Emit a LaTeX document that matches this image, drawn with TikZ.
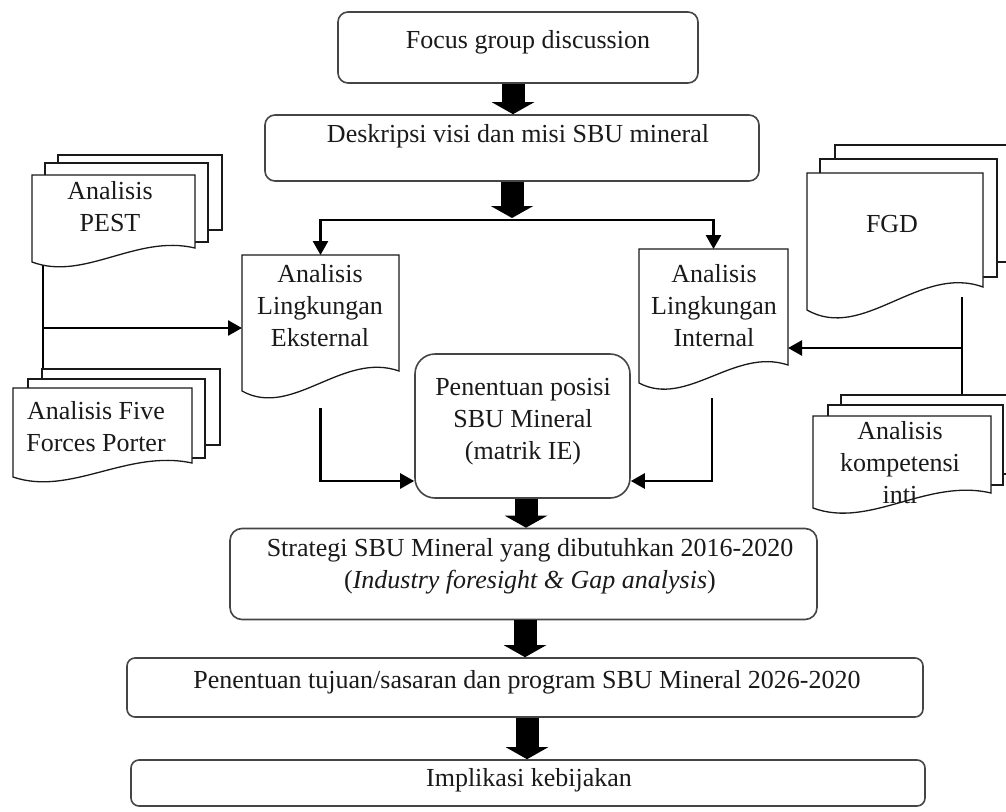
\documentclass[tikz,border=0pt]{standalone}
\usepackage{fontspec}
\setmainfont{Liberation Serif}
\usetikzlibrary{arrows.meta,calc}
\definecolor{boxline}{HTML}{454545}
\definecolor{inkc}{HTML}{1A1A1A}
\tikzset{
  rbox/.style={draw=boxline, line width=1.6pt, fill=white, inner sep=0pt},
  docnode/.style={inner sep=0pt, outer sep=0pt},
  docline/.style={draw=inkc, line width=1.3pt, fill=white},
  txt/.style={font=\fontsize{26}{32}\selectfont, align=center, inner sep=0pt, text=inkc, anchor=base},
  blockarrow/.style={draw=black, line width=23pt, -{Triangle[width=42pt,length=12pt]}},
  conn/.style={draw=black, line width=2.6pt, -{Triangle[width=15pt,length=14pt]}},
  plainline/.style={draw=black, line width=2pt},
}
\newcommand{\wavedoc}[2]{%
  \draw[docline] (#1.north west) -- (#1.north east) -- (#1.south east)
    .. controls ($(#1.south east)!0.36!(#1.south west)+(0,-#2)$)
    and ($(#1.south east)!0.68!(#1.south west)+(0,2.4*#2)$)
    .. ($(#1.south west)+(0,#2)$) -- cycle;}
\begin{document}
\begin{tikzpicture}[x=1pt,y=-1pt]
\clip (0,0) rectangle (1006,811);
\fill[white] (0,0) rectangle (1006,811);

% ---- rounded boxes ----
\node[rbox, rounded corners=10pt, minimum width=360pt, minimum height=71pt] (foc) at (518,47.5) {};
\node[rbox, rounded corners=10pt, minimum width=494pt, minimum height=66pt] (desk) at (512,148) {};
\node[rbox, rounded corners=20pt, minimum width=215pt, minimum height=144pt] (pos) at (522.5,426) {};
\node[rbox, rounded corners=12pt, minimum width=587pt, minimum height=91pt] (strat) at (523.5,574) {};
\node[rbox, rounded corners=8pt, minimum width=796pt, minimum height=59pt] (tuj) at (525,687.5) {};
\node[rbox, rounded corners=8pt, minimum width=794pt, minimum height=46pt] (imp) at (528,783) {};

% ---- document frames (drawn later) ----
\node[docnode, minimum width=157pt, minimum height=116pt] (ekst) at (320.5,313) {};
\node[docnode, minimum width=149pt, minimum height=116pt] (int) at (713.5,307) {};
\node[docnode, minimum width=163pt, minimum height=73pt] (pest) at (113.5,211.5) {};
\node[docnode, minimum width=179pt, minimum height=75pt] (five) at (102.5,425.5) {};
\node[docnode, minimum width=176pt, minimum height=114pt] (fgd) at (895,230) {};
\node[docnode, minimum width=178pt, minimum height=77pt] (komp) at (902,454.5) {};

% ---- coordinates ----
\coordinate (split) at (512,220);
\coordinate (jl) at (43,328);
\coordinate (jr) at (962,348);
\coordinate (ea) at ($(ekst.south)+(0,37)$);
\coordinate (ia) at ($(int.south)+(-1.5,33)$);

% ---- connectors ----
\draw[blockarrow] ([xshift=-5pt]foc.south) -- ([xshift=-5pt]foc.south |- desk.north);
\draw[blockarrow] (desk.south -| split) -- ([yshift=2pt]split);
\draw[conn] (split) -| (ekst.north);
\draw[conn] (split) -| (int.north);
\draw[plainline] (pest.south -| jl) -- (five.north -| jl);
\draw[conn] (jl) -- (jl -| ekst.west);
\draw[plainline] ([yshift=-10pt]fgd.south -| jr) -- (komp.north -| jr);
\draw[conn] (jr) -- (jr -| int.east);
\draw[conn] (ea) |- ([yshift=-55pt]pos.west);
\draw[conn] (ia) |- ([yshift=-55pt]pos.east);
\draw[blockarrow] ([xshift=3.5pt]pos.south) -- ([xshift=3.5pt]pos.south |- strat.north);
\draw[blockarrow] ([xshift=1.5pt]strat.south) -- ([xshift=1.5pt]strat.south |- tuj.north);
\draw[blockarrow] ([xshift=2pt]tuj.south) -- ([xshift=2pt]tuj.south |- imp.north);

% ---- document shapes ----
\wavedoc{ekst}{20}
\wavedoc{int}{18}
\draw[docline] (58,155) rectangle (222,230);
\draw[docline] (45,163) rectangle (208,242);
\wavedoc{pest}{14}
\draw[docline] (42,369) rectangle (220,445);
\draw[docline] (28,379) rectangle (205,458);
\wavedoc{five}{14}
\draw[docline] (835,145) rectangle (1030,262);
\draw[docline] (820,159) rectangle (997,277);
\wavedoc{fgd}{23}
\draw[docline] (841,395) rectangle (1030,474);
\draw[docline] (828,405) rectangle (1003,485);
\wavedoc{komp}{15}

% ---- texts (base = baseline of last line) ----
\node[txt] (focT) at (528,48) {Focus group discussion};
\node[txt] (deskT) at (518,142) {Deskripsi visi dan misi SBU mineral};
\node[txt] (ekstT) at (320,346) {Analisis\\Lingkungan\\Eksternal};
\node[txt] (intT) at (714,346) {Analisis\\Lingkungan\\Internal};
\node[txt] (posT) at (523,459) {Penentuan posisi\\SBU Mineral\\(matrik IE)};
\node[txt] (pestT) at (110,231) {Analisis\\PEST};
\node[txt] (fiveT) at (96,451) {Analisis Five\\Forces Porter};
\node[txt] (fgdT) at (892,232) {FGD};
\node[txt] (kompT) at (900,503) {Analisis\\kompetensi\\inti};
\node[txt] (stratT) at (530,588) {Strategi SBU Mineral yang dibutuhkan 2016-2020\\(\textit{Industry foresight \& Gap analysis})};
\node[txt] (tujT) at (527,688) {Penentuan tujuan/sasaran dan program SBU Mineral 2026-2020};
\node[txt] (impT) at (529,786) {Implikasi kebijakan};
\end{tikzpicture}
\end{document}
